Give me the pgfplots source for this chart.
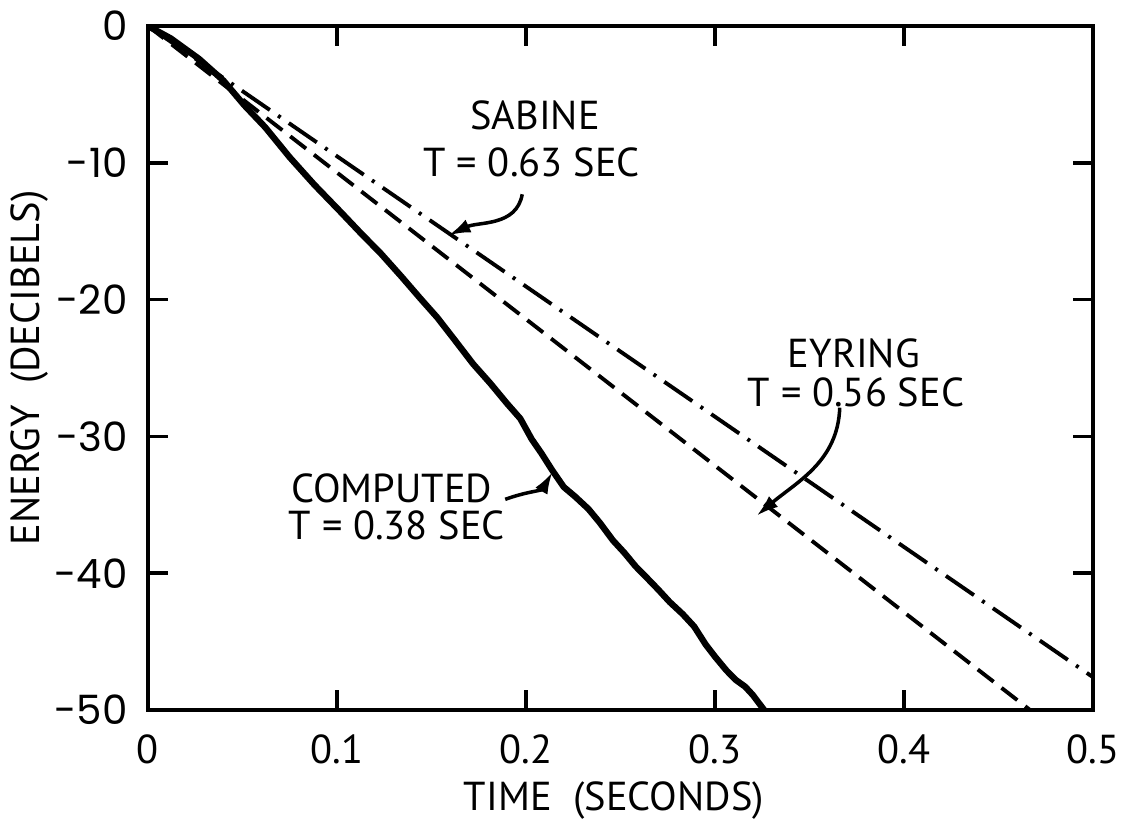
\documentclass[border=0pt]{standalone}
\usepackage{fontspec}
\setmainfont{PT Sans}
\newfontfamily\geo{Poppins}
\usepackage{pgfplots}
\pgfplotsset{compat=1.18}
\usetikzlibrary{arrows.meta}
\begin{document}
\begin{tikzpicture}[x=1cm,y=1cm]
\path[use as bounding box] (-1.48,-1.09) rectangle (9.73,7.10);
\begin{axis}[
  at={(0,0)}, anchor=south west,
  scale only axis, width=9.45cm, height=6.84cm,
  xmin=0, xmax=0.5, ymin=-50, ymax=0,
  xtick={0,0.1,0.2,0.3,0.4,0.5},
  xticklabels={0,0.1,0.2,0.3,0.4,0.5},
  ytick={-50,-40,-30,-20,-10,0},
  yticklabels={{\geo -50},{\geo -40},{\geo -30},{\geo -20},{\geo -10},{\geo 0}},
  tick align=inside, major tick length=0.2cm,
  tick style={line width=1pt, black},
  axis line style={line width=1.2pt},
  ticklabel style={font=\fontsize{11.5}{12}\selectfont},
  xticklabel style={yshift=-0.12cm},
  yticklabel style={xshift=-0.08cm},
  xlabel={TIME \ (SECONDS)},
  ylabel={ENERGY \ (DECIBELS)},
  label style={font=\fontsize{11.5}{12}\selectfont},
  xlabel style={at={(axis description cs:0.493,-0.132)}, anchor=center},
  ylabel style={at={(axis description cs:-0.125,0.5)}, anchor=center},
  clip=true,
]
% Sabine
\addplot[black, line width=1.1pt, dash pattern=on 0.34cm off 0.1cm on 0.03cm off 0.1cm] coordinates {(0,0) (0.5,-47.6)};
% Eyring
\addplot[black, line width=1.1pt, dash pattern=on 0.2cm off 0.1cm] coordinates {(0,0) (0.4667,-50)};
% Computed
\addplot[black, line width=1.8pt, line join=round] coordinates {
(0,0) (0.012,-0.9) (0.027,-2.4) (0.04,-4.0) (0.051,-5.8) (0.062,-7.4) (0.075,-9.6)
(0.088,-11.6) (0.102,-13.6) (0.113,-15.2) (0.123,-16.6) (0.134,-18.3) (0.144,-19.9)
(0.153,-21.3) (0.162,-22.9) (0.172,-24.7) (0.181,-26.1) (0.190,-27.6) (0.197,-28.7)
(0.203,-30.2) (0.208,-31.2) (0.214,-32.5) (0.220,-33.7) (0.226,-34.4) (0.233,-35.3)
(0.239,-36.3) (0.246,-37.6) (0.252,-38.5) (0.258,-39.5) (0.263,-40.2) (0.270,-41.2)
(0.276,-42.1) (0.283,-43.0) (0.289,-43.9) (0.295,-45.2) (0.300,-46.1) (0.306,-47.1)
(0.311,-47.8) (0.316,-48.3) (0.320,-48.9) (0.326,-50)
};
% labels
\node[font=\fontsize{11.5}{12}\selectfont] at (axis cs:0.2048,-6.5) {SABINE};
\node[font=\fontsize{11.5}{12}\selectfont] at (axis cs:0.203,-10.0) {T = 0.63 SEC};
\node[font=\fontsize{11.5}{12}\selectfont] at (axis cs:0.3735,-23.9) {EYRING};
\node[font=\fontsize{11.5}{12}\selectfont] at (axis cs:0.3746,-26.8) {T = 0.56 SEC};
\node[font=\fontsize{11.5}{12}\selectfont] at (axis cs:0.129,-33.8) {COMPUTED};
\node[font=\fontsize{11.5}{12}\selectfont] at (axis cs:0.1317,-36.5) {T = 0.38 SEC};
% arrows
\draw[line width=1pt, -{Latex[length=0.22cm,width=0.14cm]}] (axis cs:0.198,-12.3) to[out=-100,in=25] (axis cs:0.159,-15.3);
\draw[line width=1pt, -{Latex[length=0.22cm,width=0.14cm]}] (axis cs:0.366,-27.9) to[out=-92,in=40] (axis cs:0.322,-35.8);
\draw[line width=1pt, -{Latex[length=0.22cm,width=0.14cm]}] (axis cs:0.189,-34.6) to[out=20,in=-120] (axis cs:0.214,-32.6);
\end{axis}
\end{tikzpicture}
\end{document}
